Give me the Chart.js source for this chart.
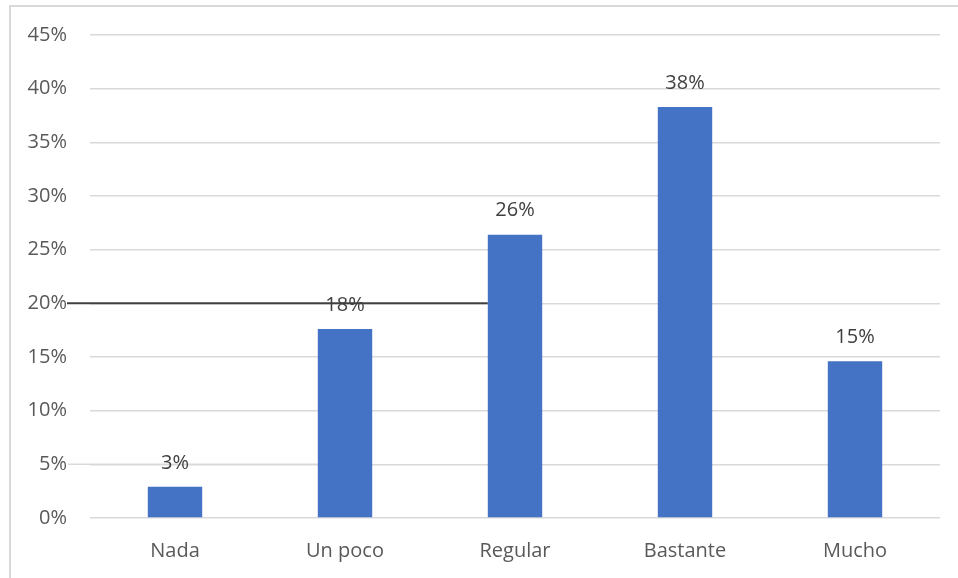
<!DOCTYPE html>
<html>
<head>
<meta charset="utf-8">
<script src="https://cdn.jsdelivr.net/npm/chart.js@4/dist/chart.umd.min.js"></script>
<style>
  html, body { margin: 0; padding: 0; background: #fff; overflow: hidden; }
  #frame {
    position: absolute; left: 9px; top: 5px;
    width: 980px; height: 600px;
    border: 2px solid #d9d9d9; box-sizing: border-box;
  }
  #myChart { position: absolute; left: 0; top: 0; }
</style>
</head>
<body>
<div id="frame"></div>
<canvas id="myChart" width="958" height="578"></canvas>
<script>
const categories = ['Nada', 'Un poco', 'Regular', 'Bastante', 'Mucho'];
const shares = [2.9, 17.6, 26.4, 38.3, 14.6];
const yTicks = [0, 5, 10, 15, 20, 25, 30, 35, 40, 45];

const FONT = '"Open Sans", "DejaVu Sans", sans-serif';

// value labels above each bar
const barLabels = {
    id: 'barLabels',
    afterDatasetsDraw(chart) {
        const ctx = chart.ctx;
        const meta = chart.getDatasetMeta(0);
        ctx.save();
        ctx.font = '20px ' + FONT;
        ctx.fillStyle = '#404040';
        ctx.textAlign = 'center';
        ctx.textBaseline = 'middle';
        meta.data.forEach((bar, i) => {
            ctx.fillText(Math.round(shares[i]) + '%', bar.x, bar.y - 24);
        });
        ctx.restore();
    }
};

// the two leftover rule lines on the left side of the plot
const ruleLines = {
    id: 'ruleLines',
    beforeDatasetsDraw(chart) {
        const ctx = chart.ctx;
        const y = chart.scales.y;
        const bars = chart.getDatasetMeta(0).data;
        const x0 = chart.chartArea.left - 22;
        ctx.save();
        ctx.strokeStyle = '#d9d9d9';
        ctx.lineWidth = 1.5;
        ctx.beginPath();
        ctx.moveTo(x0, y.getPixelForValue(5));
        ctx.lineTo(bars[1].x - bars[1].width / 2, y.getPixelForValue(5));
        ctx.stroke();
        ctx.strokeStyle = '#404040';
        ctx.lineWidth = 2;
        ctx.beginPath();
        ctx.moveTo(x0 - 1, y.getPixelForValue(20));
        ctx.lineTo(bars[2].x - bars[2].width / 2, y.getPixelForValue(20));
        ctx.stroke();
        ctx.restore();
    }
};

const ctx = document.getElementById('myChart').getContext('2d');
const myChart = new Chart(ctx, {
    type: 'bar',
    data: {
        labels: categories,
        datasets: [{
            data: shares,
            backgroundColor: '#4472c4',
            barPercentage: 0.64,
            categoryPercentage: 0.5,
        }]
    },
    options: {
        responsive: false,
        animation: false,
        layout: { padding: { left: 0, right: 18, top: 34, bottom: 0 } },
        plugins: {
            legend: { display: false },
            tooltip: { enabled: false }
        },
        scales: {
            x: {
                grid: { display: false },
                border: { display: false },
                ticks: {
                    color: '#595959',
                    padding: 13,
                    font: { family: FONT, size: 20 }
                },
                afterFit(scale) { scale.height = 60; }
            },
            y: {
                min: 0,
                max: 45,
                afterBuildTicks(scale) {
                    scale.ticks = yTicks.map(v => ({ value: v }));
                },
                grid: {
                    color: '#d9d9d9',
                    lineWidth: 1.5,
                    drawTicks: false
                },
                border: { display: false },
                ticks: {
                    color: '#595959',
                    padding: 23,
                    font: { family: FONT, size: 20 },
                    callback: v => v + '%'
                },
                afterFit(scale) { scale.width = 90; }
            }
        }
    },
    plugins: [ruleLines, barLabels]
});
</script>
</body>
</html>
